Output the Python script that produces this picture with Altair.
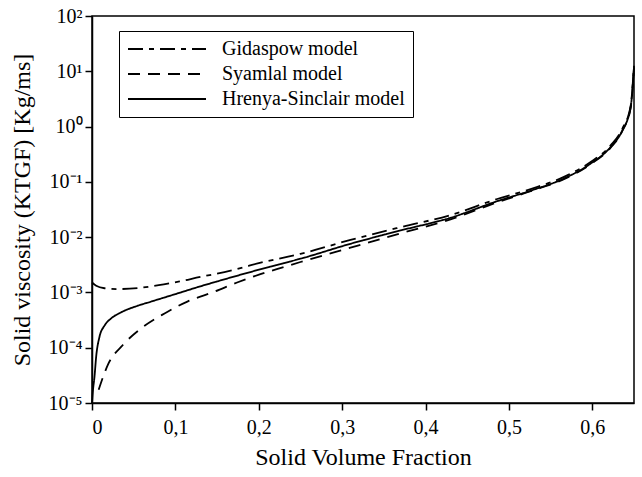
import altair as alt
import pandas as pd

models = ["Gidaspow model", "Syamlal model", "Hrenya-Sinclair model"]

gid_x = [0.0, 0.005, 0.015, 0.03, 0.055, 0.08, 0.105, 0.13, 0.15, 0.178, 0.2, 0.23, 0.25, 0.31, 0.37, 0.43, 0.486, 0.526, 0.566, 0.598, 0.622, 0.636, 0.646, 0.65]
gid_y = [1.51e-3, 1.32e-3, 1.19e-3, 1.15e-3, 1.20e-3, 1.35e-3, 1.58e-3, 1.91e-3, 2.19e-3, 2.75e-3, 3.39e-3, 4.27e-3, 5.0e-3, 8.9e-3, 1.51e-2, 2.51e-2, 4.9e-2, 7.41e-2, 0.123, 0.229, 0.457, 0.912, 2.4, 12.6]

sya_x = [0.008, 0.019, 0.037, 0.059, 0.087, 0.115, 0.146, 0.174, 0.202, 0.23, 0.25, 0.31, 0.37, 0.43, 0.486, 0.526, 0.566, 0.598, 0.622, 0.636, 0.646, 0.65]
sya_y = [1.74e-5, 4.9e-5, 1.12e-4, 2.24e-4, 4.17e-4, 6.9e-4, 1.02e-3, 1.51e-3, 2.14e-3, 2.88e-3, 3.55e-3, 6.46e-3, 1.17e-2, 2.09e-2, 4.27e-2, 6.76e-2, 0.112, 0.209, 0.417, 0.832, 2.19, 11.7]

hre_x = [0.0, 0.001, 0.003, 0.005, 0.009, 0.015, 0.023, 0.035, 0.055, 0.07, 0.1, 0.13, 0.15, 0.19, 0.23, 0.25, 0.31, 0.37, 0.43, 0.486, 0.526, 0.566, 0.598, 0.622, 0.636, 0.646, 0.65]
hre_y = [1.0e-5, 1.6e-5, 3.0e-5, 6.9e-5, 1.58e-4, 2.51e-4, 3.39e-4, 4.37e-4, 5.75e-4, 6.76e-4, 9.33e-4, 1.29e-3, 1.58e-3, 2.34e-3, 3.39e-3, 4.07e-3, 7.59e-3, 1.32e-2, 2.24e-2, 4.47e-2, 6.92e-2, 0.115, 0.214, 0.427, 0.851, 2.24, 12.0]

y_ticks = [1e-5, 1e-4, 1e-3, 1e-2, 1e-1, 1e0, 1e1, 1e2]
y_tick_labels = ["10⁻⁵", "10⁻⁴", "10⁻³", "10⁻²", "10⁻¹", "10⁰", "10¹", "10²"]
x_ticks = [0, 0.1, 0.2, 0.3, 0.4, 0.5, 0.6]

frames = []
for name, xs, ys in [(models[0], gid_x, gid_y), (models[1], sya_x, sya_y), (models[2], hre_x, hre_y)]:
    frames.append(pd.DataFrame({"x": xs, "y": ys, "model": name, "order": range(len(xs))}))
df = pd.concat(frames, ignore_index=True)

expr = "'" + y_tick_labels[-1] + "'"
for v, lab in zip(reversed(y_ticks[:-1]), reversed(y_tick_labels[:-1])):
    expr = f"datum.value < {v*1.5} ? '{lab}' : " + expr

FONT = "Liberation Serif"

chart = alt.Chart(df).mark_line(strokeWidth=1.8, interpolate="monotone").encode(
    x=alt.X("x:Q", scale=alt.Scale(domain=[0, 0.65], nice=False),
            axis=alt.Axis(title="Solid Volume Fraction", values=x_ticks,
                          labelExpr="datum.value == 0 ? '0' : replace(format(datum.value, '.1f'), '.', ',')")),
    y=alt.Y("y:Q", scale=alt.Scale(type="log", domain=[1e-5, 1e2], nice=False),
            axis=alt.Axis(title="Solid viscosity (KTGF) [Kg/ms]", values=y_ticks, labelExpr=expr)),
    strokeDash=alt.StrokeDash("model:N",
        scale=alt.Scale(domain=models, range=[[15, 6, 5, 6], [12, 8], [1, 0]]),
        legend=alt.Legend(orient="none", legendX=27, legendY=15, title=None,
                          symbolType="M-1,0H7.667", symbolSize=324, symbolStrokeWidth=1.8,
                          symbolStrokeColor="black", labelFont=FONT, labelFontSize=20,
                          labelColor="black", labelLimit=400, fillColor="white", strokeColor="black",
                          padding=8, rowPadding=5, labelOffset=75)),
    order="order:Q",
    color=alt.value("black"),
).properties(
    width=542, height=387,
    autosize=alt.AutoSizeParams(type="none"),
    padding={"left": 92, "top": 16, "right": 8, "bottom": 74},
).configure_view(
    stroke="black", strokeWidth=1.5
).configure_axis(
    grid=False, domainColor="black", domainWidth=1.5, tickColor="black", tickWidth=1.5,
    tickSize=7, labelFont=FONT, labelFontSize=20, labelColor="black",
    titleFont=FONT, titleFontSize=24, titleFontWeight="normal", titleColor="black",
    labelPadding=3
).configure_axisX(titlePadding=8, labelPadding=7).configure_axisY(titlePadding=14)

chart.save("out.html", embed_options={"renderer": "svg", "actions": False})
